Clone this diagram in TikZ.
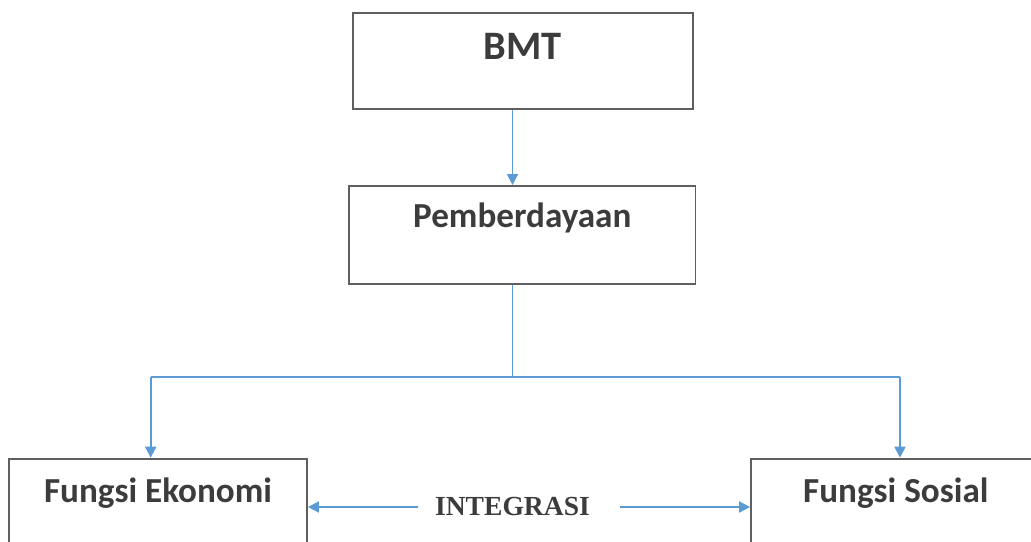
\documentclass[tikz,border=0pt]{standalone}
\usepackage{fontspec}
\setmainfont{Carlito}
\newfontfamily\timesfont{Liberation Serif}
\usetikzlibrary{arrows.meta}
\definecolor{linkblue}{RGB}{91,155,213}
\definecolor{boxgray}{RGB}{95,95,95}
\definecolor{txtgray}{RGB}{60,60,60}

\begin{document}
\begin{tikzpicture}[x=0.02cm, y=-0.02cm, semithick,
  >={Triangle[length=2.2mm,width=2.2mm]},
  box/.style = {draw=boxgray, line width=1.1pt, rectangle, inner sep=0pt, text=txtgray, font=\bfseries\fontsize{20}{24}\selectfont},
  link/.style = {color=linkblue, line width=1.1pt}]
\useasboundingbox (0,0) rectangle (1031,541);
\clip (0,0) rectangle (1031,541);
\node[box, anchor=north, minimum width=6.8cm, text height=0.946cm, text depth=0.974cm, font=\bfseries\fontsize{23}{27}\selectfont] (bmt) at (522.7,11.7) {BMT};
\node[box, anchor=north, minimum width=6.93cm, text height=0.834cm, text depth=1.126cm] (pemb) at (522.3,185) {Pemberdayaan};
\node[box, anchor=north, minimum width=5.96cm, text height=0.88cm, text depth=1.2cm] (eko) at (158,457.7) {Fungsi Ekonomi};
\node[box, anchor=north, minimum width=5.79cm, text height=0.88cm, text depth=1.2cm] (sos) at (895.8,457.7) {Fungsi Sosial};
\node[text=txtgray, font=\timesfont\bfseries\fontsize{15.7}{19}\selectfont] (integ) at (512.5,506) {INTEGRASI};
\coordinate (split) at (512.5,377);
\coordinate (jl) at (150.7,377);
\coordinate (jr) at (900,377);
\coordinate (il) at (418.3,507);
\coordinate (ir) at (620,507);
\draw [link, ->] (bmt.south -| split) -- (pemb.north -| split);
\draw [link] (pemb.south -| split) -- (split);
\draw [link] (jl) -- (jr);
\draw [link, ->] (jl) -- (jl |- eko.north);
\draw [link, ->] (jr) -- (jr |- sos.north);
\draw [link, ->] (il) -- (il -| eko.east);
\draw [link, ->] (ir) -- (ir -| sos.west);
\end{tikzpicture}
\end{document}
